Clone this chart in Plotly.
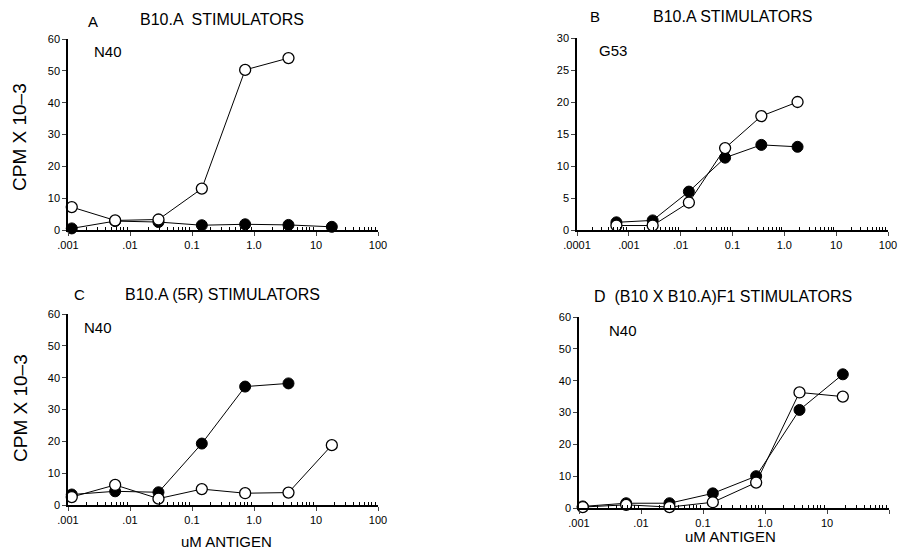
import plotly.graph_objects as go

W, H = 898, 550

# Doses (uM antigen), 5-fold dilutions
dose_acd = [0.00115, 0.00576, 0.0288, 0.144, 0.72, 3.6, 18]
dose_b = [0.000576, 0.00288, 0.0144, 0.072, 0.36, 1.8]

# Panel A (N40, B10.A stimulators)
a_open = [7.2, 3.0, 3.3, 13.0, 50.3, 54.0]
a_filled = [0.5, 2.8, 2.5, 1.5, 1.8, 1.6, 1.0]
# Panel B (G53, B10.A stimulators)
b_open = [0.7, 0.7, 4.3, 12.8, 17.8, 20.0]
b_filled = [1.2, 1.5, 6.0, 11.3, 13.3, 13.0]
# Panel C (N40, B10.A(5R) stimulators)
c_open = [2.5, 6.3, 2.0, 5.0, 3.7, 3.9, 18.8]
c_filled = [3.3, 4.3, 4.0, 19.3, 37.2, 38.2]
# Panel D (N40, (B10 x B10.A)F1 stimulators)
d_open = [0.3, 1.0, 0.3, 1.8, 8.0, 36.3, 35.0]
d_filled = [0.5, 1.5, 1.5, 4.6, 10.0, 30.8, 42.0]

xt_acd_vals = [0.001, 0.01, 0.1, 1, 10, 100]
xt_acd_text = [".001", ".01", "0.1", "1.0", "10", "100"]
xt_b_vals = [0.0001, 0.001, 0.01, 0.1, 1, 10, 100]
xt_b_text = [".0001", ".001", ".01", "0.1", "1.0", "10", "100"]

FONT = "Liberation Sans, Arial, sans-serif"

# panel pixel boxes: (x0, x1, ytop, ybottom)
boxes = {
    "1": (68, 378, 39, 230),
    "2": (577, 888, 38, 230),
    "3": (68, 378, 314, 505),
    "4": (579, 889, 317, 508),
}

fig = go.Figure()

def add_panel(k, xs_open, y_open, xs_filled, y_filled):
    xa = "x" if k == "1" else "x" + k
    ya = "y" if k == "1" else "y" + k
    fig.add_trace(go.Scatter(
        x=xs_filled, y=y_filled, mode="lines+markers", xaxis=xa, yaxis=ya,
        line=dict(color="black", width=1),
        marker=dict(symbol="circle", size=11, color="black", line=dict(color="black", width=1)),
        cliponaxis=False, showlegend=False))
    fig.add_trace(go.Scatter(
        x=xs_open, y=y_open, mode="lines+markers", xaxis=xa, yaxis=ya,
        line=dict(color="black", width=1),
        marker=dict(symbol="circle", size=11, color="white", line=dict(color="black", width=1.3)),
        cliponaxis=False, showlegend=False))

add_panel("1", dose_acd[:len(a_open)], a_open, dose_acd[:len(a_filled)], a_filled)
add_panel("2", dose_b[:len(b_open)], b_open, dose_b[:len(b_filled)], b_filled)
add_panel("3", dose_acd[:len(c_open)], c_open, dose_acd[:len(c_filled)], c_filled)
add_panel("4", dose_acd[:len(d_open)], d_open, dose_acd[:len(d_filled)], d_filled)

layout = dict(width=W, height=H, autosize=False,
              margin=dict(l=0, r=0, t=0, b=0),
              plot_bgcolor="white", paper_bgcolor="white",
              font=dict(family=FONT, color="black"))

def minor_vals(lo, hi):
    out = []
    for e in range(lo, hi):
        for m in range(2, 10):
            out.append(m * 10.0 ** e)
    return out

yr = {"1": (60, 10), "2": (30, 5), "3": (60, 10), "4": (60, 10)}
for k, (x0, x1, yt, yb) in boxes.items():
    xn = "xaxis" if k == "1" else "xaxis" + k
    yn = "yaxis" if k == "1" else "yaxis" + k
    anchor_x = "x" if k == "1" else "x" + k
    anchor_y = "y" if k == "1" else "y" + k
    if k == "2":
        tv, tt, rng = xt_b_vals, xt_b_text, [-4, 2]
    else:
        tv, tt, rng = xt_acd_vals, xt_acd_text, [-3, 2]
    layout[xn] = dict(domain=[x0 / W, x1 / W], anchor=anchor_y, type="log", range=rng,
                      tickvals=tv, ticktext=tt, ticks="outside", ticklen=4, tickwidth=1,
                      showline=True, linecolor="black", linewidth=1.5, showgrid=False,
                      zeroline=False, tickfont=dict(size=11, family=FONT), automargin=False,
                      minor=dict(ticks="inside", ticklen=3, tickwidth=1, tickcolor="black",
                                 showgrid=False, tickvals=minor_vals(rng[0], rng[1])))
    ymax, dt = yr[k]
    layout[yn] = dict(domain=[(H - yb) / H, (H - yt) / H], anchor=anchor_x, range=[0, ymax],
                      dtick=dt, ticks="outside", ticklen=4, tickwidth=1,
                      showline=True, linecolor="black", linewidth=1.5, showgrid=False,
                      zeroline=False, tickfont=dict(size=11, family=FONT), automargin=False)

fig.update_layout(**layout)

def ann(text, px, py, size=13, angle=0, xanchor="center"):
    fig.add_annotation(text=text, x=px / W, y=1 - py / H, xref="paper", yref="paper",
                       showarrow=False, font=dict(size=size, family=FONT, color="black"),
                       textangle=angle, xanchor=xanchor, yanchor="middle")

# Panel titles
ann("A", 93, 21, size=15)
ann("B10.A  STIMULATORS", 222, 19, size=16)
ann("B", 595, 17, size=15)
ann("B10.A STIMULATORS", 732, 17, size=16)
ann("C", 79, 294, size=15)
ann("B10.A (5R) STIMULATORS", 222, 294, size=16)
ann("D  (B10 X B10.A)F1 STIMULATORS", 723, 296, size=16)

# Inner labels
ann("N40", 108, 52, size=15)
ann("G53", 613, 50, size=15)
ann("N40", 98, 327, size=15)
ann("N40", 623, 330, size=15)

# Axis titles
ann("CPM X 10\u20133", 20, 137, size=19, angle=-90)
ann("CPM X 10\u20133", 20, 408, size=19, angle=-90)
ann("uM ANTIGEN", 226, 541, size=15)
ann("uM ANTIGEN", 730, 536, size=15)

fig.write_html("out.html", config={"displayModeBar": False},
               post_script="document.body.style.margin='0px';document.body.style.overflow='hidden';")
